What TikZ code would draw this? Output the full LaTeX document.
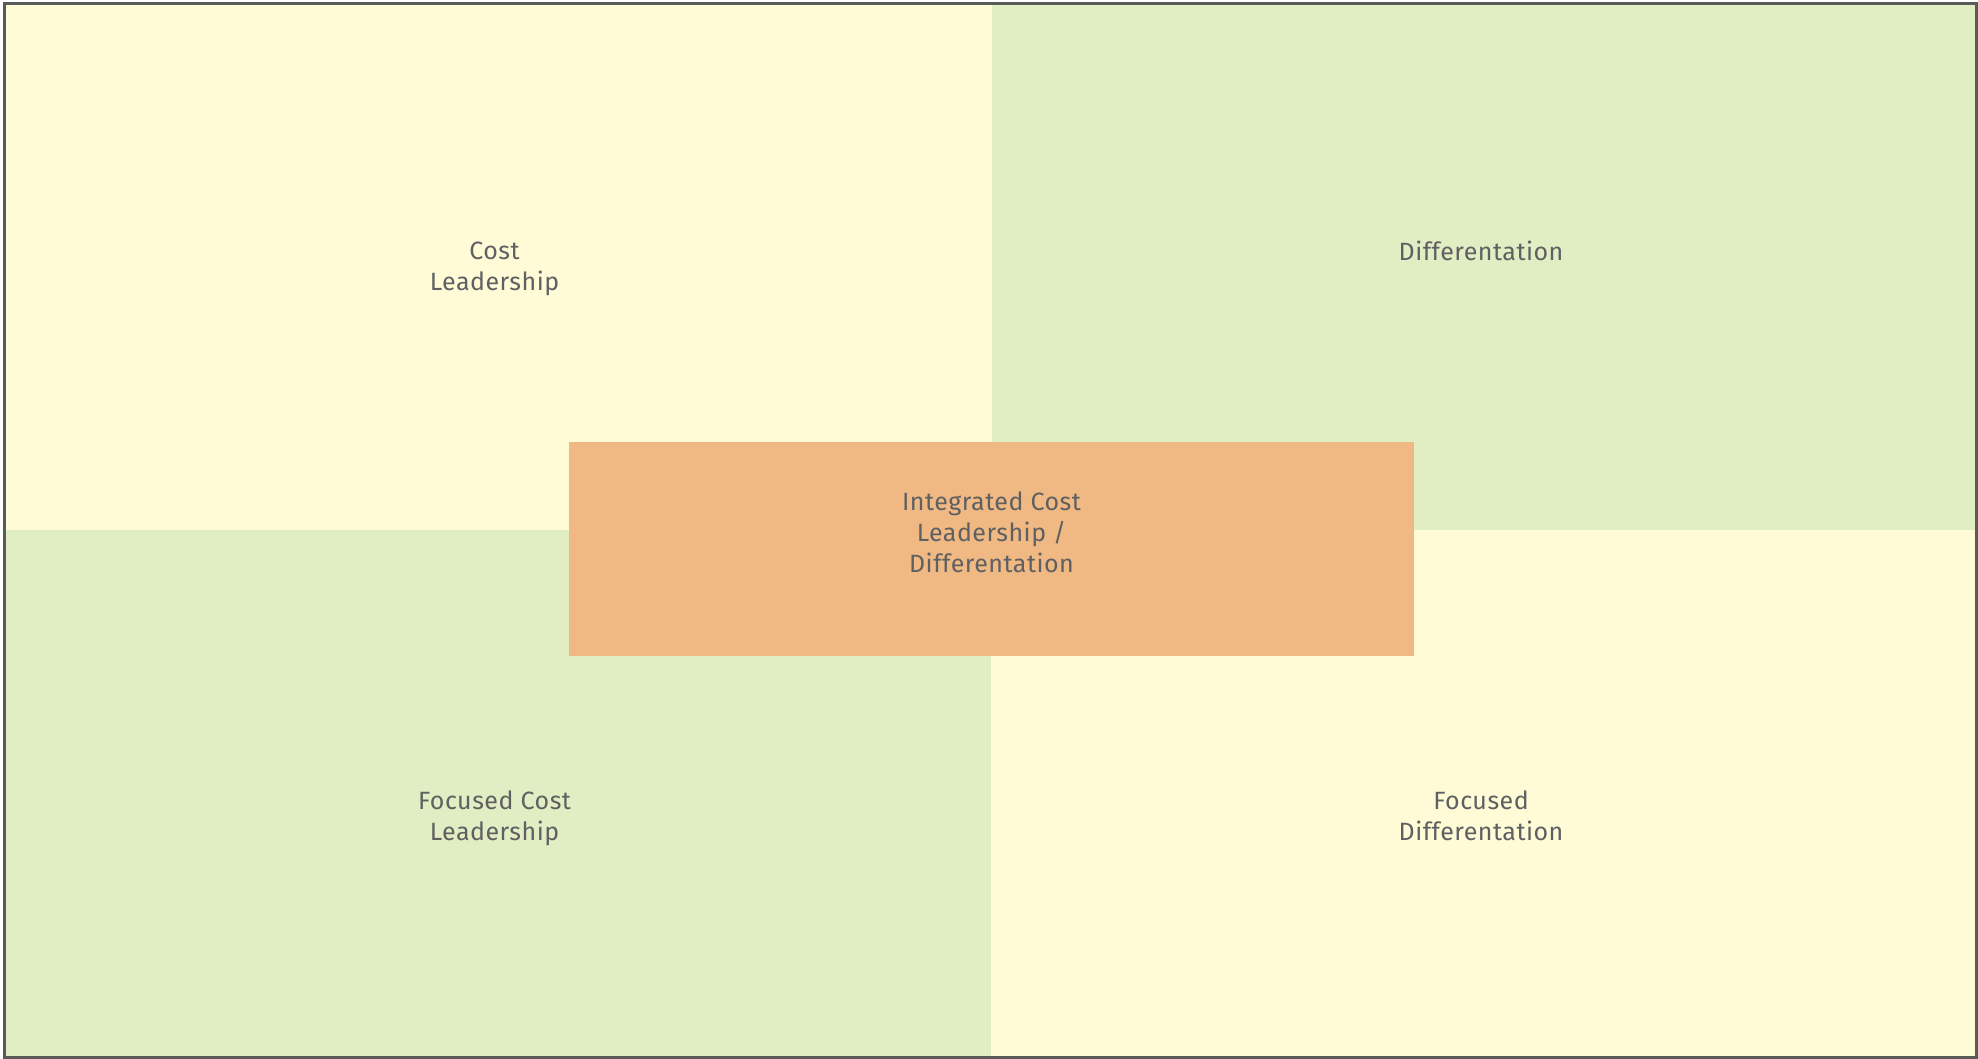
\documentclass[tikz,border=0pt]{standalone}
\usepackage{fontspec}
\setmainfont{Fira Sans}[LetterSpace=2]
\definecolor{paleyellow}{HTML}{FFFBD7}
\definecolor{palegreen}{HTML}{E1EDC2}
\definecolor{softorange}{HTML}{F0B882}
\definecolor{labelgray}{HTML}{5E6062}
\definecolor{framegray}{HTML}{595B5B}
\begin{document}
\begin{tikzpicture}[x=1pt,y=-1pt,
  quad/.style={draw=none,inner sep=0pt,outer sep=0pt,anchor=north west},
  lbl/.style={align=center,text=labelgray,inner sep=0pt,
    font=\fontsize{25}{31}\selectfont}]
\useasboundingbox (0,0) rectangle (1978,1059);
% four quadrants
\node[quad,fill=paleyellow,minimum width=988pt,minimum height=527pt] (tl) at (4,3) {};
\node[quad,fill=palegreen,minimum width=985pt,minimum height=527pt] (tr) at (992,3) {};
\node[quad,fill=palegreen,minimum width=987pt,minimum height=528pt] (bl) at (4,530) {};
\node[quad,fill=paleyellow,minimum width=986pt,minimum height=528pt] (br) at (991,530) {};
% central block
\node[quad,fill=softorange,minimum width=845pt,minimum height=214.5pt] (mid) at (569,441.5) {};
% labels
\node[lbl] (tlt) at (494.5,268.5) {Cost\\Leadership};
\node[lbl] (trt) at (1481,251) {Differentation};
\node[lbl] (blt) at (494.5,818) {Focused Cost\\Leadership};
\node[lbl] (brt) at (1481,816) {Focused\\Differentation};
\node[lbl] (midt) at (991.5,532) {Integrated Cost\\Leadership /\\Differentation};
% outer frame
\draw[framegray,line width=3pt] (4.5,3.5) rectangle (1976.5,1057.5);
\end{tikzpicture}
\end{document}
